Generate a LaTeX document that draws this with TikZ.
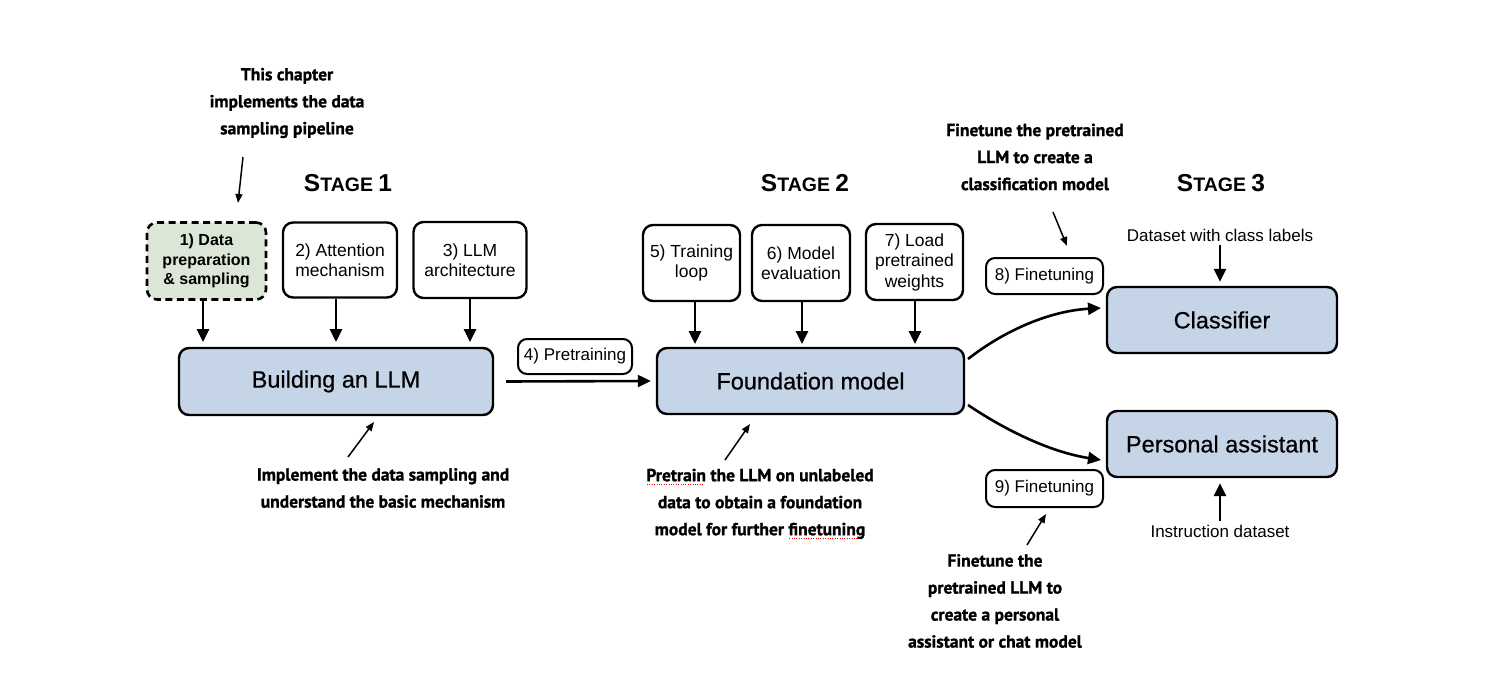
\documentclass[tikz,border=0pt]{standalone}
\usepackage{fontspec}
\setmainfont{Liberation Sans}
\newfontfamily\annotfont[FakeBold=1.2]{PT Sans}
\newfontfamily\medfont[FakeBold=0.6]{Liberation Sans}
\usetikzlibrary{arrows.meta,calc}
\definecolor{boxblue}{HTML}{C6D4E7}
\definecolor{boxgreen}{HTML}{DCE6D6}
\newcommand\redul[1]{\setbox0\hbox{#1}\rlap{\raisebox{-4pt}{\color{red}\leaders\hbox to 2.4pt{\hss\rule{1.1pt}{1.1pt}\hss}\hskip\wd0}}#1}
\tikzset{
  base/.style={draw=black, line width=2.4pt, rounded corners=10pt, align=center, inner sep=2pt},
  smallbox/.style={base, fill=white, font=\fontsize{17.5}{20.5}\selectfont},
  bigbox/.style={base, fill=boxblue, font=\medfont\fontsize{23.5}{27}\selectfont},
  labbox/.style={base, line width=2pt, rounded corners=9pt, fill=white, font=\fontsize{17}{20}\selectfont},
  annot/.style={align=center, font=\annotfont\bfseries\fontsize{17.5}{27}\selectfont},
  plain/.style={align=center, font=\fontsize{17}{20}\selectfont},
  stage/.style={font=\bfseries},
  arr/.style={line width=2.6pt, -{Triangle[length=13pt,width=12pt]}},
  thin/.style={line width=1.5pt, -{Triangle[length=9pt,width=7pt]}},
}
\newcommand\stagetxt[1]{{\fontsize{24.5}{24}\selectfont S}{\fontsize{19.5}{24}\selectfont TAGE }{\fontsize{24.5}{24}\selectfont #1}}
\begin{document}
\begin{tikzpicture}[x=1pt,y=-1pt]
\useasboundingbox (0,0) rectangle (1510,680);
\fill[white] (0,0) rectangle (1510,680);

% Stage titles
\node[stage] (s1) at (348,183) {\stagetxt{1}};
\node[stage] (s2) at (805,183) {\stagetxt{2}};
\node[stage] (s3) at (1221,183) {\stagetxt{3}};

% Stage 1
\node[smallbox, fill=boxgreen, dashed, dash pattern=on 7pt off 4.5pt, line width=2.6pt, font=\bfseries\fontsize{16}{19.5}\selectfont, minimum width=119pt, minimum height=77pt] (b1) at (206.5,261) {1) Data\\preparation\\\& sampling};
\node[smallbox, minimum width=114pt, minimum height=75pt] (b2) at (340,260) {2) Attention\\mechanism};
\node[smallbox, minimum width=113pt, minimum height=76pt] (b3) at (470,260) {3) LLM\\architecture};
\node[bigbox, minimum width=314pt, minimum height=67pt] (build) at (336,381.5) {Building an LLM};

\draw[arr] (b1.south -| 203,0) -- (203,342);
\draw[arr] (b2.south -| 336,0) -- (336,342);
\draw[arr] (b3.south) -- (470,342);

% Top annotation
\node[annot] (a1) at (287,103) {This chapter\\implements the data\\sampling pipeline};
\coordinate (a1s) at (243,157);
\coordinate (a1e) at (238,203);
\draw[thin] (a1s) -- (a1e);

% Bottom annotation stage 1
\node[annot] (a2) at (383,488) {Implement the data sampling and\\understand the basic mechanism};
\coordinate (a2s) at (348,457);
\coordinate (a2e) at (374,422);
\draw[thin] (a2s) -- (a2e);

% Pretraining
\node[labbox, minimum width=114pt, minimum height=35pt] (pt) at (575,356.5) {4) Pretraining};
\node[bigbox, minimum width=307pt, minimum height=66pt] (found) at (810.5,381) {Foundation model};
\draw[arr] ($(build.east)+(12,0)$) -- ($(found.west)+(-5,0)$);

% Stage 2
\node[smallbox, minimum width=97pt, minimum height=76pt] (b5) at (691.5,263) {5) Training\\loop};
\node[smallbox, minimum width=98pt, minimum height=76pt] (b6) at (801,263) {6) Model\\evaluation};
\node[smallbox, minimum width=97pt, minimum height=76pt] (b7) at (914.5,262) {7) Load\\pretrained\\weights};
\draw[arr] (b5.south -| 695,0) -- (695,344);
\draw[arr] (b6.south -| 802,0) -- (802,344);
\draw[arr] (b7.south -| 915,0) -- (915,344);

\node[annot] (a3) at (760,504) {\redul{Pretrain} the LLM on unlabeled\\data to obtain a foundation\\model for further \redul{finetuning}};
\coordinate (a3s) at (725,460);
\coordinate (a3e) at (750,424);
\draw[thin] (a3s) -- (a3e);

% Stage 3
\node[bigbox, minimum width=230pt, minimum height=66pt] (clf) at (1222,320) {Classifier};
\node[bigbox, minimum width=230pt, minimum height=66pt] (pa) at (1222,444) {Personal assistant};
\node[labbox, minimum width=117pt, minimum height=36pt] (f8) at (1044.5,276) {8) Finetuning};
\node[labbox, minimum width=117pt, minimum height=37pt] (f9) at (1044.5,488.5) {9) Finetuning};

\coordinate (c1s) at (968,359);
\coordinate (c1e) at (1101,308);
\draw[arr] (c1s) .. controls (1005,330) and (1050,311) .. (c1e);
\coordinate (c2s) at (968,405);
\coordinate (c2e) at (1101,460);
\draw[arr] (c2s) .. controls (1005,430) and (1050,452) .. (c2e);

\node[plain] (ds) at (1220,235) {Dataset with class labels};
\draw[arr] (ds.south) -- ($(clf.north)+(-2,-4)$);
\node[plain] (ins) at (1220,531) {Instruction dataset};
\draw[arr] (ins.north) -- ($(pa.south)+(-2,5)$);

\node[annot] (a4) at (1035,157) {Finetune the pretrained\\LLM to create a\\classification model};
\coordinate (a4s) at (1053,212);
\coordinate (a4e) at (1067,246);
\draw[thin] (a4s) -- (a4e);

\node[annot] (a5) at (995,601) {Finetune the\\pretrained LLM to\\create a personal\\assistant or chat model};
\coordinate (a5s) at (1027,545);
\coordinate (a5e) at (1046,514);
\draw[thin] (a5s) -- (a5e);
\end{tikzpicture}
\end{document}
